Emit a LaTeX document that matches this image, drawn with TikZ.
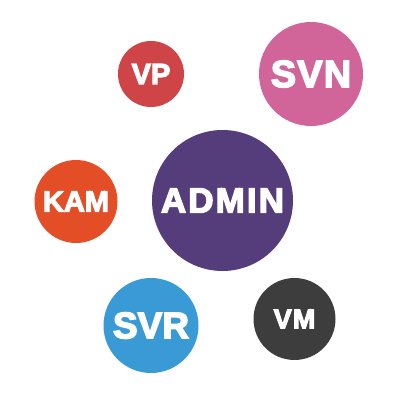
\documentclass[tikz,border=0pt]{standalone}
\usepackage{fontspec}
\newfontfamily\bb{LiberationSans-Bold.ttf}[FakeBold=4]
\definecolor{cvp}{HTML}{CF4547}
\definecolor{csvn}{HTML}{D16499}
\definecolor{ckam}{HTML}{E34E26}
\definecolor{cadmin}{HTML}{553D7B}
\definecolor{csvr}{HTML}{3A9AD6}
\definecolor{cvm}{HTML}{3D3D3D}
\tikzset{
  bubble/.style={circle, inner sep=0pt, text=white},
}
\begin{document}
\begin{tikzpicture}[x=1pt,y=1pt]
\useasboundingbox (0,0) rectangle (400,400);
\node[bubble, fill=cvp, minimum size=66pt, font=\bb\fontsize{29}{29}\selectfont] (vp) at (151,326) {VP};
\node[bubble, fill=csvn, minimum size=104pt, font=\bb\fontsize{38}{38}\selectfont] (svn) at (311,326) {\addfontfeature{LetterSpace=3}SVN};
\node[bubble, fill=ckam, minimum size=83pt, font=\bb\fontsize{29}{29}\selectfont] (kam) at (76,198.5) {KAM};
\node[bubble, fill=cadmin, minimum size=141pt, font=\bb\fontsize{35}{35}\selectfont] (admin) at (222.5,199.5) {\addfontfeature{LetterSpace=6}ADMIN};
\node[bubble, fill=csvr, minimum size=95pt, font=\bb\fontsize{37}{37}\selectfont] (svr) at (151,74.5) {SVR};
\node[bubble, fill=cvm, minimum size=82pt, font=\bb\fontsize{27}{27}\selectfont] (vm) at (294.5,81) {\addfontfeature{LetterSpace=4}VM};
\end{tikzpicture}
\end{document}
